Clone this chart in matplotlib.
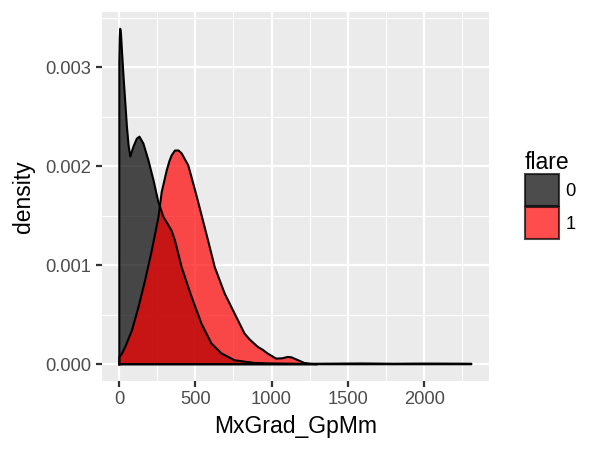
import matplotlib
matplotlib.use("Agg")
import matplotlib.pyplot as plt
from matplotlib.patches import Patch
from matplotlib.ticker import MultipleLocator

plt.rcParams['font.family'] = ['Liberation Sans', 'DejaVu Sans']

# flare = 0 density curve
x0 = [2, 5, 8, 13, 20, 30, 41, 52, 63, 74, 95, 117, 134, 160, 193, 226, 258,
      291, 345, 367, 411, 476, 541, 606, 671, 758, 887, 1000, 1100, 1200,
      1400, 1600, 1800, 2000, 2200, 2310]
d0 = [0.00305, 0.00330, 0.00339, 0.00334, 0.00315, 0.00290, 0.00265, 0.00240,
      0.00221, 0.00210, 0.00220, 0.00228, 0.00230, 0.00223, 0.00206, 0.00186,
      0.00164, 0.00149, 0.00135, 0.00125, 0.00098, 0.00068, 0.00041, 0.00021,
      0.00011, 0.00004, 0.000013, 0.000008, 0.000006, 0.000004, 0.000006,
      0.000008, 0.000005, 0.000007, 0.000006, 0.000005]

# flare = 1 density curve
x1 = [2, 20, 41, 85, 128, 171, 215, 258, 280, 313, 330, 345, 367, 390, 411,
      454, 486, 519, 584, 628, 693, 758, 823, 857, 910, 943, 975, 1030, 1070,
      1106, 1130, 1160, 1215, 1260, 1300]
d1 = [0.00007, 0.00011, 0.000175, 0.000343, 0.000579, 0.000848, 0.00115,
      0.00148, 0.00174, 0.00196, 0.00205, 0.00211, 0.00216, 0.00216, 0.00213,
      0.00201, 0.00183, 0.00164, 0.00125, 0.00098, 0.000714, 0.000512,
      0.00031, 0.00025, 0.000175, 0.000145, 0.000108, 0.000057, 0.000060,
      0.000074, 0.000070, 0.00005, 0.000013, 0.000003, 0.000001]

groups = ['0', '1']
fills = ['black', 'red']

fig = plt.figure(figsize=(4, 3), dpi=150)
ax = fig.add_axes([0.1695, 0.1533, 0.6455, 0.82])
ax.set_facecolor('#EBEBEB')

for xs, ds, c in [(x0, d0, fills[0]), (x1, d1, fills[1])]:
    ax.fill_between(xs, ds, 0, facecolor=c, alpha=0.7, edgecolor='none', zorder=2)
    poly_x = [xs[0]] + list(xs) + [xs[-1], xs[0]]
    poly_y = [0] + list(ds) + [0, 0]
    ax.plot(poly_x, poly_y, color='black', lw=1.0, zorder=3)

xmin, xmax = 2, 2310
rx = xmax - xmin
ax.set_xlim(xmin - 0.05 * rx, xmax + 0.05 * rx)
ymax = 0.00339
ax.set_ylim(-0.05 * ymax, ymax * 1.05)

ax.xaxis.set_minor_locator(MultipleLocator(250))
ax.yaxis.set_minor_locator(MultipleLocator(0.0005))
ax.set_yticks([0, 0.001, 0.002, 0.003])
ax.set_yticklabels(['0.000', '0.001', '0.002', '0.003'])
ax.set_xticks([0, 500, 1000, 1500, 2000])
ax.set_xticklabels(['0', '500', '1000', '1500', '2000'])

ax.grid(which='major', color='white', lw=1.07, zorder=0)
ax.grid(which='minor', color='white', lw=0.53, zorder=0)
ax.set_axisbelow(True)
for s in ax.spines.values():
    s.set_visible(False)
ax.tick_params(which='major', length=2.75, width=1.07, color='#333333',
               labelsize=8.8, labelcolor='#4D4D4D', pad=2.2)
ax.tick_params(which='minor', length=0)

ax.set_xlabel('MxGrad_GpMm', fontsize=11, labelpad=3)
ax.set_ylabel('density', fontsize=11, labelpad=5)

handles = [Patch(facecolor=c, alpha=0.7, edgecolor='black', lw=1.0) for c in fills]
leg = fig.legend(handles, groups, title='flare', loc='center left',
                 bbox_to_anchor=(0.875, 0.567), frameon=False, fontsize=8.8,
                 title_fontsize=11, handlelength=1.85, handleheight=2.3,
                 handletextpad=0.35, labelspacing=0.05, borderaxespad=0,
                 borderpad=0)
leg._legend_box.align = 'left'

fig.savefig('out.png', dpi=150)
